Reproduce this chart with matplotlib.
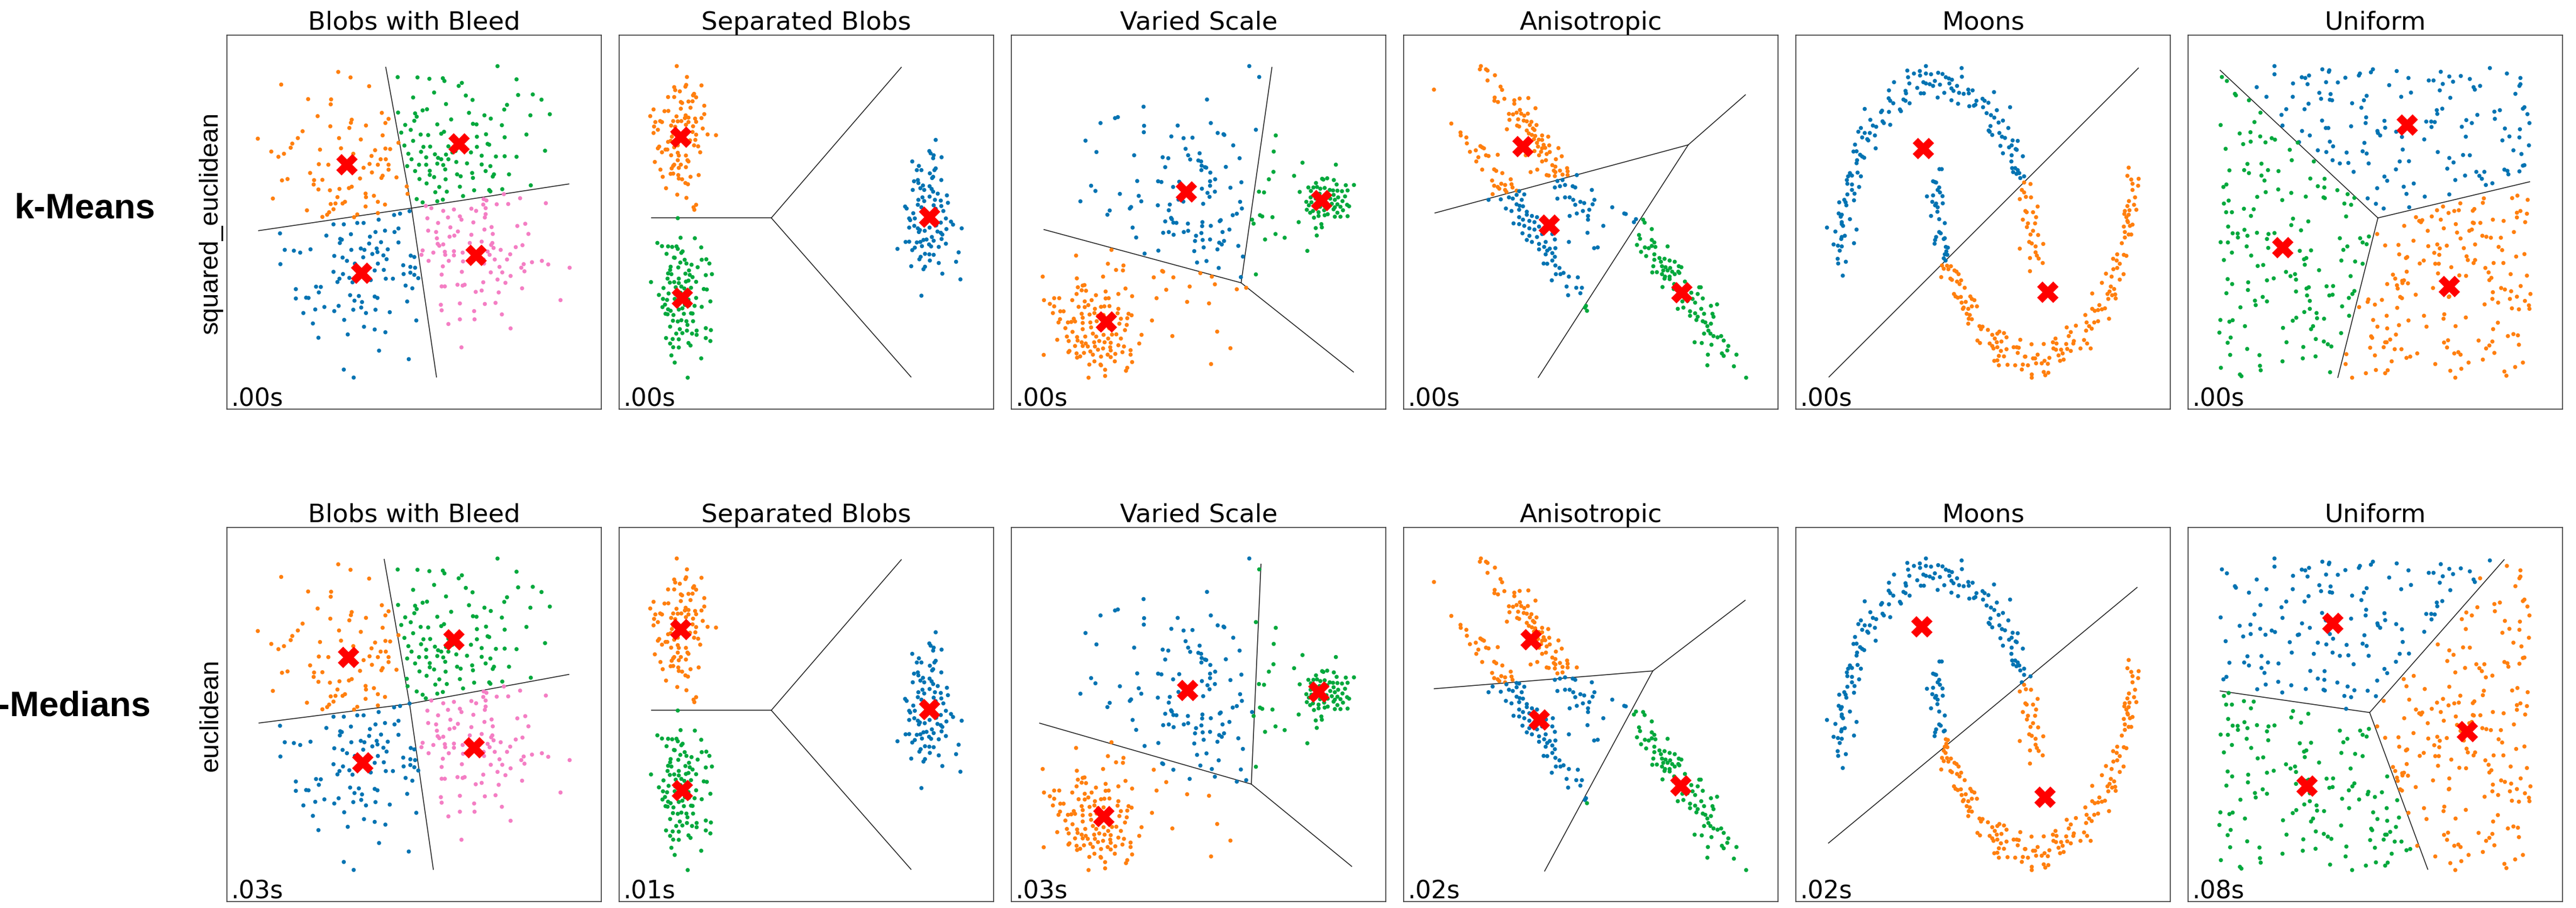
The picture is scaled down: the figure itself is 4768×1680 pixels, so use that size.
import matplotlib.pyplot as plt
import numpy as np

blue = '#0173b2'
orange = '#ff7f0e'
green = '#00a83c'
pink = '#f47ec4'

row_names = ['k-Means', 'k-Medians']
row_metrics = ['squared_euclidean', 'euclidean']
titles = ['Blobs with Bleed', 'Separated Blobs', 'Varied Scale', 'Anisotropic', 'Moons', 'Uniform']
times_top = ['.00s', '.00s', '.00s', '.00s', '.00s', '.00s']
times_bottom = ['.03s', '.01s', '.03s', '.02s', '.02s', '.08s']

blobs_lim = (567, 1512, 128, 1490)
blobs_orange = [(848,262),(879,282),(704,308),(926,314),(772,361),(830,362),(829,380),(958,411),(796,423),(882,436),
    (880,447),(975,433),(967,448),(828,460),(918,457),(876,466),(758,478),(645,505),(732,523),(746,503),(850,503),
    (728,538),(905,508),(960,493),(1000,520),(679,552),(711,560),(697,571),(802,545),(855,540),(886,560),(941,547),
    (967,541),(979,543),(932,568),(955,580),(968,580),(948,600),(975,600),(927,597),(912,611),(799,598),(823,600),
    (777,630),(888,620),(933,628),(975,618),(960,640),(706,657),(720,652),(787,656),(786,672),(808,655),(903,650),
    (957,648),(995,646),(851,688),(875,685),(882,680),(827,693),(798,690),(917,705),(938,713),(1021,679),(683,723),
    (846,718),(918,718),(865,735),(829,743),(841,741),(859,741),(948,735),(966,745),(917,752),(769,766),(836,762),
    (825,773),(820,782),(896,781),(808,790),(888,791),(948,776),(1023,706)]
blobs_green = [(1250,241),(998,281),(1048,282),(1078,287),(1112,285),(1116,295),(1160,302),(1152,313),(1298,289),
    (1090,337),(1037,355),(1170,348),(1187,364),(1302,346),(1339,344),(1361,363),(1120,379),(1274,382),(1267,399),
    (1042,413),(1061,402),(1072,398),(999,410),(1046,425),(1040,440),(1133,435),(1178,411),(1217,420),(1233,432),
    (1382,416),(1333,420),(1017,455),(1098,453),(1188,451),(1197,453),(1261,456),(1031,473),(1056,490),(1075,492),
    (1108,487),(1115,480),(1007,483),(1221,489),(1198,498),(1268,500),(1323,490),(1037,513),(1015,530),(1063,535),
    (1080,534),(1126,533),(1156,520),(1225,524),(1229,527),(1198,535),(1370,549),(1025,560),(1057,553),(1092,562),
    (1120,563),(1136,555),(1144,550),(1183,555),(1210,567),(1246,570),(1268,569),(1298,571),(1033,580),(1070,573),
    (1100,575),(1108,580),(1126,580),(1146,590),(1173,595),(1210,599),(1232,605),(1022,605),(1052,600),(1070,600),
    (1098,596),(1113,601),(1042,623),(1079,622),(1118,617),(1148,635),(1157,642),(1186,630),(1220,623),(1241,635),
    (1279,635),(1053,652),(1079,637),(1090,645),(1119,653),(1188,648),(1238,643),(1334,675),(1071,668),(1103,681),
    (1155,680),(1093,700),(1122,698),(1191,693),(1229,692),(1232,697),(1262,689),(1046,725),(1061,737),(1098,733),
    (1112,727),(1163,714)]
blobs_blue = [(701,850),(836,817),(862,817),(896,812),(912,812),(950,800),(989,783),(1004,778),(1028,769),(818,858),
    (853,870),(880,853),(928,862),(942,845),(966,840),(990,845),(1000,832),(852,885),(857,873),(926,887),(956,882),
    (1000,883),(713,910),(736,913),(752,920),(778,908),(881,910),(905,905),(914,910),(945,905),(947,918),(973,908),
    (838,932),(859,938),(911,937),(934,925),(962,930),(1031,931),(1040,936),(702,962),(870,950),(890,960),(948,960),
    (970,944),(1012,966),(1030,972),(1042,975),(836,990),(860,998),(940,985),(963,983),(1013,998),(1030,993),
    (1040,1001),(851,1015),(876,1012),(930,1020),(968,1015),(986,1015),(1050,1013),(741,1053),(792,1044),(804,1045),
    (846,1027),(884,1028),(1018,1040),(1035,1050),(799,1065),(878,1075),(900,1078),(940,1080),(947,1085),(741,1087),
    (767,1084),(773,1085),(889,1095),(908,1100),(1022,1098),(813,1118),(849,1114),(886,1128),(906,1120),(942,1128),
    (760,1140),(790,1127),(838,1133),(918,1140),(978,1137),(1045,1167),(784,1178),(863,1165),(913,1190),(940,1200),
    (967,1210),(798,1230),(872,1218),(951,1277),(1026,1308),(862,1346),(887,1375)]
blobs_pink = [(1266,707),(1215,725),(1222,730),(1307,722),(1372,740),(1248,744),(1214,745),(1277,743),(1220,758),
    (1069,750),(1083,758),(1113,768),(1140,763),(1184,760),(1196,768),(1220,780),(1073,795),(1125,792),(1155,788),
    (1159,800),(1218,792),(1100,812),(1131,828),(1189,810),(1235,827),(1300,823),(1320,815),(1075,840),(1095,845),
    (1150,843),(1217,836),(1184,855),(1141,858),(1097,868),(1129,862),(1238,852),(1328,852),(1099,888),(1103,895),
    (1210,880),(1237,885),(1113,890),(1180,885),(1234,892),(1313,893),(1296,900),(1061,912),(1140,915),(1162,920),
    (1210,910),(1225,916),(1240,903),(1258,910),(1058,928),(1088,920),(1117,917),(1118,928),(1140,930),(1230,928),
    (1282,926),(1076,950),(1127,950),(1163,952),(1215,945),(1243,945),(1274,945),(1337,955),(1362,950),(1378,963),
    (1316,962),(1112,970),(1216,960),(1255,972),(1310,975),(1432,975),(1109,1000),(1160,990),(1233,992),(1262,992),
    (1283,1005),(1318,988),(1250,1018),(1270,1030),(1109,1043),(1117,1043),(1149,1037),(1162,1040),(1167,1037),
    (1214,1028),(1312,1050),(1195,1063),(1210,1058),(1253,1065),(1107,1110),(1155,1105),(1218,1107),(1245,1103),
    (1409,1093),(1109,1130),(1191,1133),(1261,1145),(1126,1180),(1155,1163),(1192,1163),(1283,1196),(1159,1265)]
blobs_centers_top = [(870,600),(1153,524),(907,995),(1196,930)]
blobs_centers_bottom = [(874,601),(1140,537),(910,985),(1191,930)]
blobs_lines_top = [[(968,245),(1033,758),(1096,1373)], [(647,840),(1033,758),(1430,670)]]
blobs_lines_bottom = [[(964,244),(1028,770),(1088,1373)], [(648,840),(1028,770),(1430,663)]]

sep_lim = (28, 1497, 35, 1545)
sep_orange = [(254,160),(294,204),(351,238),(291,236),(288,243),(244,245),(248,257),(266,262),(322,272),(318,278),
    (330,286),(220,285),(244,285),(300,303),(316,302),(270,305),(275,309),(362,320),(163,335),(206,342),(221,341),
    (270,332),(308,328),(362,354),(289,359),(150,362),(253,363),(286,370),(300,368),(326,372),(351,370),(189,382),
    (170,386),(196,386),(240,382),(258,383),(272,382),(300,386),(330,385),(165,404),(180,417),(232,400),(248,405),
    (290,397),(318,403),(356,412),(163,430),(240,430),(235,445),(292,423),(316,426),(330,437),(375,436),(408,439),
    (230,462),(220,466),(306,460),(327,458),(185,485),(180,492),(210,497),(217,497),(244,488),(258,480),(322,480),
    (338,484),(196,508),(258,510),(346,508),(232,520),(262,521),(290,521),(168,547),(258,540),(296,540),(300,545),
    (244,558),(240,563),(270,558),(234,573),(262,571),(290,568),(190,578),(240,594),(260,600),(340,600),(199,607),
    (230,595),(262,614),(275,617),(308,607),(288,632),(298,637),(212,653),(256,679),(292,692),(330,720),(320,730),
    (323,740)]
sep_green = [(258,774),(269,853),(325,855),(178,874),(196,887),(220,888),(236,890),(253,888),(258,898),(350,892),
    (277,908),(272,914),(214,918),(243,933),(246,934),(285,942),(352,942),(370,940),(382,957),(268,953),(292,957),
    (312,962),(336,972),(230,970),(260,973),(228,983),(302,985),(220,997),(233,1000),(288,998),(305,1003),(368,1004),
    (392,1000),(153,1032),(218,1018),(262,1018),(316,1012),(227,1034),(244,1032),(262,1036),(290,1030),(300,1026),
    (330,1031),(202,1056),(250,1053),(272,1050),(284,1058),(310,1055),(360,1060),(372,1062),(184,1084),(222,1078),
    (248,1080),(269,1075),(297,1078),(200,1100),(216,1104),(246,1100),(300,1103),(330,1096),(386,1110),(208,1123),
    (286,1124),(302,1126),(324,1128),(352,1132),(198,1133),(220,1142),(230,1148),(262,1143),(276,1138),(310,1158),
    (210,1160),(218,1162),(241,1165),(282,1160),(316,1159),(239,1188),(258,1191),(272,1186),(292,1190),(318,1190),
    (228,1212),(296,1205),(266,1222),(294,1228),(332,1228),(368,1218),(388,1226),(252,1240),(276,1238),(314,1240),
    (332,1245),(212,1258),(238,1262),(262,1263),(368,1258),(228,1280),(300,1278),(308,1288),(386,1270),(240,1295),
    (262,1296),(233,1328),(350,1340),(246,1357),(297,1418)]
sep_blue = [(1270,458),(1245,503),(1250,512),(1262,520),(1293,528),(1260,532),(1178,545),(1204,563),(1196,580),
    (1214,580),(1270,573),(1265,580),(1247,593),(1260,607),(1256,612),(1292,620),(1185,625),(1200,620),(1202,632),
    (1220,642),(1246,645),(1180,660),(1210,653),(1225,660),(1254,656),(1260,667),(1278,675),(1314,682),(1218,690),
    (1246,687),(1202,700),(1225,705),(1267,700),(1290,703),(1318,712),(1150,727),(1156,735),(1200,720),(1214,730),
    (1262,722),(1292,725),(1300,745),(1270,736),(1182,754),(1166,775),(1170,782),(1188,775),(1310,775),(1330,788),
    (1290,792),(1338,800),(1372,815),(1166,812),(1186,805),(1200,815),(1208,822),(1246,812),(1272,803),(1312,818),
    (1204,830),(1227,825),(1277,828),(1290,833),(1296,840),(1255,850),(1152,870),(1166,869),(1196,872),(1210,870),
    (1222,862),(1234,860),(1262,865),(1293,858),(1310,877),(1120,898),(1178,903),(1188,893),(1216,887),(1244,880),
    (1252,888),(1282,890),(1360,912),(1228,918),(1211,930),(1245,920),(1262,922),(1206,940),(1247,945),(1282,955),
    (1350,950),(1174,968),(1228,970),(1222,980),(1296,998),(1367,1021),(1214,1087)]
sep_centers_top = [(270,447),(276,1097),(1246,770)]
sep_centers_bottom = [(270,447),(276,1097),(1246,770)]
sep_lines_top = [[(155,773),(625,773)], [(625,773),(1135,165)], [(625,773),(1173,1415)]]
sep_lines_bottom = sep_lines_top

var_lim = (20, 1490, 35, 1545)
var_blue = [(954,160),(993,204),(788,295),(539,324),(438,366),(427,370),(370,390),(803,390),(541,401),(673,400),
    (540,427),(980,417),(830,430),(853,435),(856,438),(648,444),(696,451),(731,449),(311,461),(891,480),(704,494),
    (354,507),(502,520),(714,520),(759,512),(614,528),(636,532),(722,537),(754,541),(765,545),(916,532),(624,568),
    (767,562),(780,568),(785,570),(766,580),(862,567),(801,590),(820,617),(514,624),(596,625),(609,628),(679,627),
    (800,625),(923,629),(333,643),(350,664),(655,648),(768,655),(800,643),(790,672),(819,667),(880,651),(446,676),
    (520,684),(798,688),(291,706),(530,706),(676,699),(695,707),(773,716),(918,708),(595,722),(642,719),(485,735),
    (490,729),(406,743),(638,742),(925,735),(397,760),(889,762),(905,756),(647,773),(650,778),(624,787),(656,792),
    (668,793),(713,796),(770,790),(838,786),(842,782),(496,812),(769,806),(803,805),(876,820),(510,852),(616,833),
    (638,830),(657,841),(697,830),(714,825),(766,834),(849,830),(745,845),(741,866),(771,862),(800,860),(855,866),
    (836,873),(846,880),(775,892),(829,900),(911,886),(543,917),(597,905),(738,907),(929,929),(786,947),(749,953),
    (834,975),(921,1012)]
var_green = [(1058,440),(1050,505),(1163,550),(1294,558),(1130,603),(1031,617),(1049,587),(992,667),(1012,670),
    (1216,632),(1240,615),(1245,618),(1260,613),(1286,620),(1297,638),(1333,641),(1365,640),(1186,650),(1206,650),
    (1220,648),(1233,655),(1250,652),(1270,660),(1283,662),(1300,663),(1318,665),(1340,662),(1152,668),(1196,664),
    (1230,675),(1260,672),(1285,680),(1303,690),(1330,686),(1195,690),(1215,695),(1272,695),(1290,700),(1320,705),
    (1178,708),(1198,710),(1257,712),(1278,716),(1300,718),(1338,720),(1188,722),(1232,728),(1262,726),(1290,730),
    (1312,728),(1346,726),(1180,740),(1204,745),(1248,742),(1285,738),(1322,742),(1193,752),(1226,750),(1262,758),
    (1300,752),(1226,765),(1250,762),(1290,768),(1312,768),(1340,766),(1208,772),(1148,790),(996,762),(1005,767),
    (1045,770),(965,780),(971,796),(1237,798),(1215,814),(1239,811),(1219,844),(1057,838),(1093,853),(1016,860),
    (1182,906),(980,1001)]
var_orange = [(413,902),(274,925),(399,958),(460,965),(458,985),(431,983),(143,1010),(277,1017),(380,1010),(579,1013),
    (612,987),(616,990),(656,1013),(762,996),(807,1010),(819,1041),(720,1050),(628,1063),(905,1061),(942,1055),
    (300,1046),(307,1044),(281,1053),(296,1065),(276,1080),(313,1067),(352,1085),(390,1070),(440,1080),(468,1058),
    (494,1089),(148,1105),(188,1097),(208,1097),(171,1120),(188,1130),(259,1105),(308,1110),(335,1105),(390,1098),
    (402,1097),(590,1097),(710,1112),(796,1118),(225,1150),(284,1132),(308,1133),(322,1125),(348,1140),(372,1132),
    (385,1130),(405,1129),(440,1140),(183,1157),(212,1150),(296,1160),(327,1163),(346,1157),(360,1168),(437,1158),
    (480,1160),(492,1166),(211,1182),(265,1180),(300,1176),(382,1165),(450,1180),(475,1178),(205,1195),(242,1195),
    (255,1193),(270,1191),(300,1197),(330,1195),(355,1190),(444,1200),(473,1205),(572,1187),(232,1218),(300,1222),
    (333,1215),(366,1220),(404,1218),(466,1226),(260,1233),(340,1240),(382,1245),(415,1244),(432,1243),(531,1245),
    (652,1250),(238,1252),(278,1254),(310,1252),(353,1252),(400,1260),(450,1260),(200,1265),(245,1270),(280,1268),
    (296,1275),(312,1280),(345,1275),(365,1270),(386,1275),(410,1277),(522,1280),(828,1232),(270,1290),(300,1290),
    (320,1292),(348,1292),(380,1300),(408,1295),(440,1287),(462,1292),(248,1310),(276,1320),(305,1318),(330,1312),
    (360,1305),(410,1308),(456,1315),(488,1307),(147,1326),(244,1315),(290,1332),(340,1325),(372,1333),(398,1325),
    (428,1322),(488,1325),(278,1337),(326,1365),(346,1352),(370,1365),(410,1335),(426,1352),(494,1355),(880,1299),
    (804,1363),(372,1368),(388,1386),(470,1390),(475,1378),(323,1418),(388,1411)]
var_centers_top = [(707,668),(1238,703),(393,1193)]
var_centers_bottom = [(712,693),(1227,699),(383,1202)]
var_lines_top = [[(148,820),(922,1035)], [(1043,165),(922,1035)], [(922,1035),(1363,1395)]]
var_lines_bottom = [[(131,825),(962,1071)], [(1000,183),(962,1071)], [(962,1071),(1356,1403)]]

ani_lim = (17, 1485, 35, 1545)
ani_orange = [(320,160),(316,173),(340,173),(346,178),(375,197),(346,218),(136,255),(397,243),(403,256),(374,287),
    (412,292),(373,300),(387,305),(451,298),(472,291),(506,289),(451,312),(473,337),(534,330),(430,353),(446,355),
    (460,348),(478,352),(490,360),(504,352),(432,377),(466,375),(488,380),(500,383),(518,385),(204,392),(462,400),
    (470,404),(512,398),(538,398),(524,412),(422,415),(500,420),(530,418),(240,428),(241,440),(508,432),(520,438),
    (533,442),(560,440),(584,445),(263,448),(528,455),(547,457),(560,458),(265,472),(540,470),(566,478),(588,480),
    (318,483),(325,488),(332,492),(544,485),(560,492),(572,490),(624,491),(277,506),(300,500),(530,503),(556,506),
    (590,507),(340,520),(350,523),(386,518),(496,520),(548,520),(578,515),(310,528),(302,545),(614,536),(637,524),
    (560,545),(575,540),(600,560),(612,566),(325,578),(372,577),(380,583),(541,578),(515,588),(606,582),(612,588),
    (630,582),(658,572),(660,585),(404,592),(578,600),(586,602),(610,604),(640,598),(660,600),(364,622),(437,617),
    (400,635),(415,640),(440,637),(372,643),(386,648),(444,650),(392,655),(415,660),(420,668),(460,663),(366,677)]
ani_blue = [(696,600),(620,624),(640,620),(610,650),(630,645),(650,640),(680,645),(690,650),(470,665),(460,680),
    (490,678),(430,690),(445,695),(480,700),(350,700),(398,698),(620,695),(650,690),(668,690),(682,700),(710,708),
    (725,713),(758,718),(765,700),(460,718),(472,724),(485,726),(690,720),(418,735),(440,745),(470,740),(500,748),
    (745,740),(755,660),(835,730),(882,755),(888,757),(696,755),(720,745),(740,765),(668,765),(500,760),(520,765),
    (540,770),(470,770),(485,780),(510,785),(530,790),(448,795),(470,798),(490,805),(510,815),(530,820),(548,808),
    (575,810),(602,805),(740,780),(800,805),(928,778),(920,790),(483,835),(510,845),(540,850),(560,838),(600,838),
    (610,860),(500,862),(520,870),(548,878),(574,870),(665,870),(548,900),(568,890),(580,905),(590,897),(612,895),
    (574,920),(600,915),(610,930),(764,895),(778,892),(738,833),(566,957),(580,958),(600,945),(612,965),(628,975),
    (644,995),(632,1000),(614,1000),(598,1025),(656,1050),(665,1010),(700,1013),(694,1055),(716,1055),(710,1077),
    (662,1085)]
ani_green = [(956,780),(962,792),(990,818),(940,842),(944,857),(990,862),(1000,872),(990,886),(1004,890),(932,882),
    (963,892),(978,895),(1052,888),(948,910),(968,927),(1000,920),(1020,935),(1040,938),(1060,945),(1000,942),
    (1026,950),(1080,950),(1096,968),(1106,972),(996,968),(1030,968),(1044,972),(1062,975),(1035,985),(1052,985),
    (1070,990),(1094,990),(992,993),(1010,992),(1030,1000),(1042,1010),(1060,1010),(1080,1000),(1098,995),(1120,1030),
    (1078,1040),(1040,1018),(1060,1020),(1032,1052),(1076,1060),(1176,1053),(1182,1053),(1145,1075),(1170,1080),
    (1086,1090),(1110,1110),(1130,1108),(1150,1100),(1190,1098),(1160,1115),(1092,1140),(1114,1135),(1140,1150),
    (1160,1158),(1184,1140),(1195,1160),(1222,1128),(1246,1122),(1140,1168),(1170,1172),(1165,1185),(1190,1190),
    (1228,1160),(1232,1172),(1200,1195),(1208,1210),(1222,1200),(1212,1228),(1195,1240),(1220,1240),(1232,1250),
    (1248,1255),(1262,1250),(1158,1275),(1186,1278),(1224,1285),(1272,1268),(1290,1290),(1286,1308),(1265,1320),
    (1272,1330),(1210,1325),(1322,1325),(1208,1368),(1312,1372),(1360,1418),(732,1128),(736,1148),(728,1135)]
ani_centers_top = [(485,485),(588,802),(1108,1075)]
ani_centers_bottom = [(517,488),(549,812),(1104,1078)]
ani_lines_top = [[(140,753),(1133,478)], [(1133,478),(1357,276)], [(1133,478),(545,1417)]]
ani_lines_bottom = [[(137,686),(994,614)], [(994,614),(1356,329)], [(994,614),(570,1422)]]

moon_lim = (10, 1478, 35, 1545)
moon_blue = [(520,160),(447,178),(473,190),(496,180),(497,198),(520,190),(540,193),(568,187),(585,192),(598,205),
    (610,210),(622,215),(660,168),(661,203),(450,205),(455,230),(486,248),(510,225),(520,230),(535,233),(548,240),
    (555,220),(575,235),(592,268),(612,230),(620,250),(628,260),(642,240),(650,268),(668,272),(686,255),(703,258),
    (688,270),(395,225),(375,258),(440,260),(442,270),(500,270),(512,270),(566,287),(620,298),(646,312),(374,290),
    (380,300),(392,310),(432,295),(440,300),(456,310),(718,300),(742,292),(750,300),(765,308),(714,316),(690,322),
    (744,326),(708,320),(787,265),(850,326),(280,333),(348,340),(344,346),(375,345),(418,335),(422,342),(758,350),
    (775,358),(798,338),(788,368),(302,377),(350,383),(355,390),(380,397),(805,388),(822,380),(773,402),(843,410),
    (312,400),(325,405),(265,410),(255,425),(280,430),(300,430),(320,440),(270,448),(290,455),(294,460),(766,420),
    (770,425),(780,438),(808,430),(818,445),(830,450),(860,460),(880,462),(323,492),(242,477),(248,504),(236,505),
    (262,518),(270,525),(278,530),(250,540),(248,552),(812,482),(846,488),(856,480),(872,495),(822,512),(876,498),
    (856,520),(900,524),(855,545),(222,592),(215,605),(230,602),(252,590),(265,605),(858,572),(870,572),(880,580),
    (862,588),(875,595),(886,592),(905,605),(890,612),(210,620),(212,635),(230,638),(258,648),(230,660),(212,678),
    (240,675),(200,700),(205,710),(208,722),(238,702),(180,710),(178,755),(190,760),(186,768),(222,778),(190,790),
    (190,798),(195,805),(132,812),(165,828),(248,820),(190,850),(202,845),(188,858),(158,880),(175,885),(190,888),
    (238,875),(182,905),(174,938),(176,957),(206,950),(194,1006),
    (573,576),(582,576),(548,625),(555,628),(560,630),(572,650),(566,660),(575,670),(548,682),(524,686),(585,685),
    (545,708),(560,715),(556,722),(566,730),(586,714),(565,748),(540,765),(572,778),(594,794),(572,830),(578,835),
    (560,850),(556,862),(590,858),(594,855),(554,877),(598,890),(606,893),(600,908),(594,920),(604,922),(590,936),
    (597,945)]
moon_orange = [(905,630),(930,636),(896,660),(905,670),(912,688),(932,690),(888,697),(958,727),(910,745),(915,750),
    (940,750),(952,770),(900,780),(920,795),(948,795),(916,810),(940,825),(930,840),(960,842),(925,870),(935,876),
    (980,878),(950,888),(888,897),(950,912),(955,925),(928,935),(962,937),(978,955),(928,988),
    (583,965),(603,966),(618,968),(590,978),(608,980),(632,985),(640,990),(648,1000),(580,1012),(616,1018),
    (622,1023),(642,1030),(658,1025),(672,1055),(652,1040),(630,1080),(636,1090),(645,1095),(657,1092),(694,1090),
    (700,1100),(710,1105),(660,1115),(676,1112),(668,1135),(686,1140),(700,1130),(720,1130),(665,1140),(680,1160),
    (692,1165),(688,1180),(700,1182),(686,1200),(730,1210),(742,1212),(763,1225),(736,1222),(780,1245),(800,1240),
    (808,1232),(826,1238),(836,1255),(790,1260),(722,1268),(732,1278),(770,1280),(798,1275),(816,1272),(780,1290),
    (800,1295),(814,1310),(836,1303),(864,1295),(876,1295),(884,1297),(890,1265),(934,1283),(880,1318),(908,1333),
    (940,1340),(958,1325),(982,1282),(1028,1260),(1018,1275),(1032,1280),(1020,1300),(1030,1305),(1050,1305),
    (1070,1282),(1074,1302),(1088,1310),(1098,1280),(1100,1270),(1108,1208),(1088,1234),(1080,1250),(1072,1215),
    (1126,1300),(1140,1266),(1152,1280),(1166,1300),(1145,1165),(1150,1195),(1160,1210),(1170,1220),(1180,1195),
    (1195,1190),(1148,1228),(1172,1140),(1182,1148),(1195,1145),(1210,1142),(1200,1125),(1222,1138),(1238,1180),
    (1172,1078),(1232,1080),(1240,1070),(1262,1082),(1264,1098),(1235,1100),(1250,1085),(1258,1060),(1280,1022),
    (1226,998),(1248,1010),(1255,980),(1270,975),(1280,958),(1210,1035),(1245,1050),(1254,938),(1268,945),(1296,922),
    (1306,926),(1270,920),(1288,875),(1300,852),(1315,840),(1325,840),(1300,830),(1296,808),(1320,805),(1330,800),
    (1312,790),(1306,770),(1315,760),(1298,757),(1318,742),(1345,740),(1310,725),(1336,720),(1316,705),(1340,690),
    (1300,745),(1330,660),(1352,643),(1330,635),(1325,618),(1354,615),(1310,603),(1315,570),(1310,785),(1295,1000),
    (785,1300),(806,1330),(826,1332),(788,1350),(806,1368),(840,1366),(870,1368),(900,1365),(910,1333),(920,1368),
    (948,1340),(952,1360),(974,1360),(985,1350),(998,1362),(1004,1338),(982,1395),(1000,1398),(988,1408),(935,1405),
    (935,1418),(1040,1328),(1056,1320),(1046,1350),(1060,1345),(896,1385),(800,1348)]
moon_centers_top = [(510,493),(998,1073)]
moon_centers_bottom = [(504,436),(987,1124)]
moon_lines_top = [[(140,1415),(1353,168)]]
moon_lines_bottom = [[(138,1309),(1348,277)]]

uni_lim = (25, 1520, 35, 1545)
uni_blue = [(370,160),(370,193),(561,173),(589,177),(587,183),(711,190),(707,198),(763,173),(755,185),(858,180),
    (905,208),(1034,183),(1068,202),(1114,200),(1150,212),(1230,168),(1298,190),(1352,208),(1352,233),(1348,240),
    (299,245),(479,205),(493,208),(508,198),(444,230),(502,233),(576,225),(623,226),(653,207),(828,237),(986,218),
    (1005,218),(1042,232),(1083,223),(1165,245),(1170,255),(1191,240),(1030,258),(1072,288),(338,284),(443,284),
    (549,268),(556,292),(594,273),(591,296),(600,298),(738,280),(727,298),(680,310),(506,312),(490,334),(417,334),
    (717,328),(876,284),(915,267),(1018,338),(1040,332),(1020,353),(1332,272),(1362,332),(1368,326),(1380,354),
    (1248,344),(1270,338),(1180,357),(1250,373),(1388,390),(398,357),(560,380),(575,410),(585,410),(676,403),
    (736,367),(734,390),(809,381),(812,409),(781,422),(783,430),(792,440),(856,425),(976,384),(996,384),(1010,386),
    (997,406),(1118,405),(1136,378),(1158,390),(1290,412),(1350,415),(1308,444),(1348,448),(1280,460),(1386,480),
    (402,400),(480,422),(511,440),(468,467),(591,465),(604,484),(729,470),(879,446),(882,497),(968,456),(1134,445),
    (1022,507),(543,500),(577,507),(658,509),(722,504),(738,513),(1068,531),(1085,549),(1123,519),(1150,520),
    (1324,500),(1356,515),(602,540),(631,553),(665,551),(746,553),(870,545),(907,544),(855,577),(1060,574),(1131,602),
    (1176,587),(1188,603),(1208,587),(1198,615),(1214,640),(1240,633),(1288,578),(1300,583),(1304,597),(1348,585),
    (1362,562),(1368,560),(686,587),(809,606),(820,623),(886,647),(926,634),(1092,620),(780,653),(742,694),(897,676),
    (970,687),(1068,678),(775,716),(806,735),(908,730)]
uni_green = [(160,204),(180,220),(212,272),(216,278),(268,298),(314,348),(155,398),(290,386),(231,432),(274,427),
    (313,444),(359,451),(372,457),(245,475),(275,465),(334,468),(463,469),(175,494),(431,498),(439,540),(527,545),
    (190,581),(249,580),(268,592),(262,555),(318,554),(344,580),(386,584),(318,602),(330,622),(513,614),(570,615),
    (166,648),(178,638),(385,658),(437,672),(543,645),(569,650),(621,661),(566,690),(571,693),(301,688),(335,669),
    (401,701),(495,687),(662,677),(689,692),(676,720),(168,715),(187,703),(649,715),(177,750),(200,750),(248,736),
    (287,738),(276,765),(656,767),(444,776),(437,802),(505,787),(185,808),(250,821),(203,835),(223,836),(224,852),
    (262,845),(300,833),(346,838),(370,834),(340,858),(476,823),(155,871),(184,872),(259,888),(345,894),(631,855),
    (712,855),(722,872),(738,879),(747,848),(200,913),(277,925),(471,906),(516,904),(661,888),(645,902),(168,943),
    (303,967),(325,963),(488,940),(497,935),(491,962),(548,984),(637,945),(692,949),(722,958),(416,991),(434,1008),
    (452,1000),(456,1022),(674,1008),(183,1020),(201,1040),(265,1033),(340,1025),(367,1017),(178,1077),(264,1064),
    (456,1070),(498,1058),(507,1053),(578,1049),(604,1048),(589,1086),(602,1083),(667,1096),(681,1080),(689,1068),
    (292,1107),(295,1125),(323,1092),(340,1110),(500,1086),(511,1108),(234,1134),(640,1130),(489,1153),(511,1140),
    (538,1157),(668,1168),(154,1185),(190,1192),(203,1186),(457,1176),(443,1188),(540,1178),(568,1180),(252,1210),
    (404,1217),(524,1210),(516,1222),(150,1236),(636,1238),(195,1256),(183,1277),(418,1275),(535,1262),(567,1272),
    (583,1283),(597,1292),(261,1302),(485,1294),(193,1326),(310,1327),(402,1352),(483,1340),(534,1332),(156,1378),
    (312,1370),(315,1388),(232,1405),(238,1412),(592,1396)]
uni_orange = [(780,838),(935,770),(948,785),(955,790),(960,782),(998,767),(1019,742),(1043,727),(1065,753),(1088,745),
    (1106,742),(1112,714),(1168,737),(1162,744),(1206,694),(1202,712),(1319,693),(1340,683),(1381,700),(1338,752),
    (1352,745),(1378,756),(1338,771),(1285,785),(1242,780),(1371,790),(888,805),(982,825),(1034,780),(1046,815),
    (1094,798),(1099,832),(1113,856),(1148,825),(1162,792),(1166,794),(1192,793),(1158,820),(1200,845),(1216,849),
    (1234,853),(1274,853),(1326,830),(812,884),(865,882),(925,865),(984,887),(1020,880),(1030,896),(1058,885),
    (1126,895),(1265,890),(1279,903),(1171,880),(868,920),(895,935),(900,931),(1008,914),(1028,922),(1137,928),
    (1142,943),(1171,943),(1335,929),(1368,919),(950,957),(966,945),(1012,958),(1026,958),(1076,972),(1165,955),
    (1212,975),(1245,955),(1284,955),(898,990),(1023,997),(1108,1005),(1135,1007),(1225,993),(1236,1015),(1228,1024),
    (1313,1000),(1378,1006),(843,1002),(852,1018),(880,1027),(887,1025),(881,1036),(820,1040),(859,1045),(903,1037),
    (862,1058),(1003,1056),(1068,1048),(1275,1056),(1290,1062),(1353,1048),(872,1092),(879,1097),(934,1083),
    (1066,1092),(1242,1073),(1315,1069),(1392,1080),(1338,1091),(745,1102),(742,1112),(771,1123),(799,1104),
    (860,1136),(1240,1100),(1310,1100),(1370,1108),(1386,1126),(1388,1140),(1209,1122),(1263,1115),(1318,1138),
    (1346,1142),(708,1133),(818,1168),(905,1187),(967,1168),(1048,1162),(1134,1175),(764,1185),(1262,1196),
    (781,1212),(820,1219),(867,1206),(977,1212),(1093,1210),(1243,1222),(756,1251),(760,1257),(855,1244),(832,1264),
    (1185,1268),(1302,1250),(1324,1242),(1342,1247),(818,1275),(812,1275),(752,1297),(806,1295),(850,1303),
    (877,1303),(1047,1276),(1063,1267),(1059,1296),(1215,1300),(1228,1288),(1240,1272),(1346,1285),(657,1323),
    (771,1328),(912,1333),(897,1338),(940,1320),(1088,1320),(1104,1315),(1113,1325),(1248,1318),(838,1352),
    (1202,1345),(1145,1357),(1362,1357),(654,1363),(1012,1363),(1116,1382),(1331,1375),(1072,1390),(775,1387),
    (822,1388),(735,1400),(812,1400),(1288,1393),(1296,1410),(680,1418),(1092,1418),(1045,1180),(1068,1090)]
uni_centers_top = [(900,398),(403,893),(1068,1050)]
uni_centers_bottom = [(603,422),(500,1079),(1140,859)]
uni_lines_top = [[(153,177),(783,773)], [(783,773),(1389,627)], [(783,773),(623,1417)]]
uni_lines_bottom = [[(153,695),(750,782)], [(750,782),(1287,165)], [(750,782),(982,1415)]]

panels = [
    (blobs_lim, [blobs_orange, blobs_green, blobs_blue, blobs_pink], [orange, green, blue, pink],
     [blobs_centers_top, blobs_centers_bottom], [blobs_lines_top, blobs_lines_bottom]),
    (sep_lim, [sep_orange, sep_green, sep_blue], [orange, green, blue],
     [sep_centers_top, sep_centers_bottom], [sep_lines_top, sep_lines_bottom]),
    (var_lim, [var_blue, var_green, var_orange], [blue, green, orange],
     [var_centers_top, var_centers_bottom], [var_lines_top, var_lines_bottom]),
    (ani_lim, [ani_orange, ani_blue, ani_green], [orange, blue, green],
     [ani_centers_top, ani_centers_bottom], [ani_lines_top, ani_lines_bottom]),
    (moon_lim, [moon_blue, moon_orange], [blue, orange],
     [moon_centers_top, moon_centers_bottom], [moon_lines_top, moon_lines_bottom]),
    (uni_lim, [uni_blue, uni_green, uni_orange], [blue, green, orange],
     [uni_centers_top, uni_centers_bottom], [uni_lines_top, uni_lines_bottom]),
]

W, H = 4768, 1681
fig = plt.figure(figsize=(W / 100, H / 100), dpi=100)

col_left = 420
col_step = 726
ax_w = 693
ax_h = 692
row_top = [66, 977]
row_label_x = [287, 279]
row_label_y = [386, 1308]

for r in range(2):
    for c, (lim, clusters, colors, centers, lines) in enumerate(panels):
        x0 = col_left + c * col_step
        ax = fig.add_axes([x0 / W, 1 - (row_top[r] + ax_h) / H, ax_w / W, ax_h / H])
        pts = np.vstack([np.array(cl, dtype=float) for cl in clusters])
        cen = np.array(centers[r], dtype=float)
        if r == 0:
            lab = np.concatenate([np.full(len(cl), i) for i, cl in enumerate(clusters)])
        else:
            # k-Medians: each point goes to its nearest median (in panel fractions)
            sx = lim[1] - lim[0]
            sy = lim[3] - lim[2]
            d = ((pts[:, None, 0] - cen[None, :, 0]) / sx) ** 2 + ((pts[:, None, 1] - cen[None, :, 1]) / sy) ** 2
            lab = d.argmin(axis=1)
        for i, col in enumerate(colors):
            m = lab == i
            ax.scatter(pts[m, 0], pts[m, 1], s=30, color=col, edgecolors='none', zorder=2)
        for ln in lines[r]:
            ln = np.array(ln)
            ax.plot(ln[:, 0], ln[:, 1], color='#222222', lw=1.2, zorder=1)
        ax.scatter(cen[:, 0], cen[:, 1], marker='X', s=820, color='red', edgecolors='none', zorder=3)
        ax.set_xlim(lim[0], lim[1])
        ax.set_ylim(lim[3], lim[2])
        ax.set_xticks([])
        ax.set_yticks([])
        for sp in ax.spines.values():
            sp.set_color('#333333')
            sp.set_linewidth(1.2)
        ax.set_title(titles[c], fontsize=34, pad=8)
        t = times_top[c] if r == 0 else times_bottom[c]
        ax.text(0.01, 0.01, t, transform=ax.transAxes, fontsize=33, ha='left')
        if c == 0:
            ax.set_ylabel(row_metrics[r], fontsize=35, family='Liberation Sans')
            ax.yaxis.set_label_coords(-0.010, 0.5)
    fig.text(row_label_x[r] / W, 1 - row_label_y[r] / H, row_names[r], ha='right', va='center', fontsize=47,
             fontweight='bold', family='Liberation Sans')

fig.savefig('out.png', dpi=100)
